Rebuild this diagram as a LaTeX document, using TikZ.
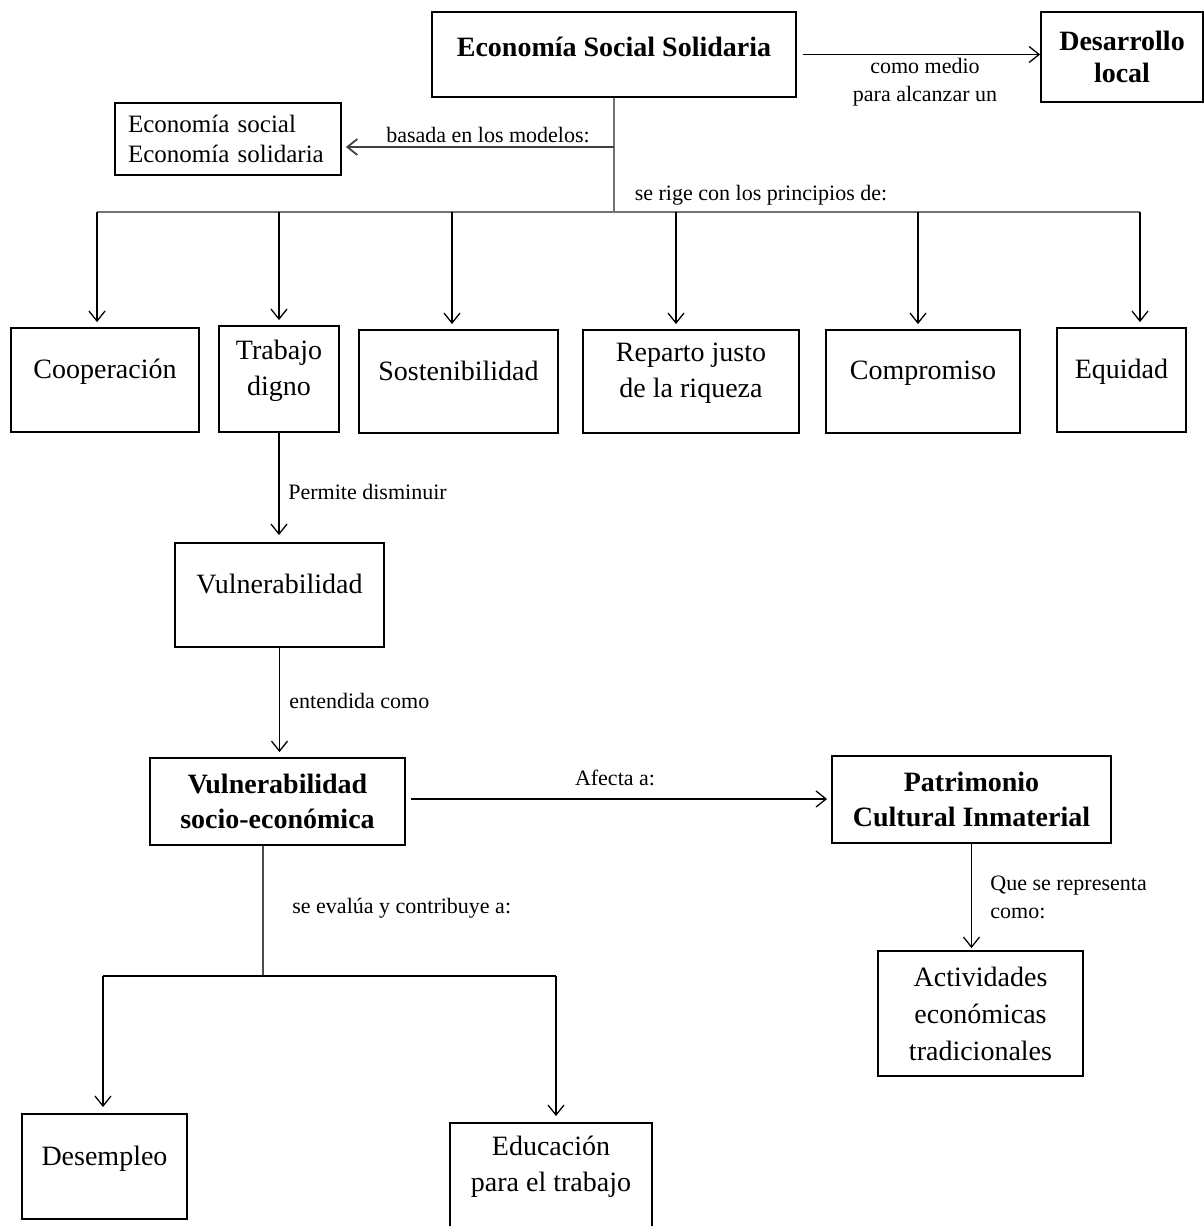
\documentclass[tikz,border=0pt]{standalone}
\usepackage{fontspec}
\setmainfont{Liberation Serif}
\usetikzlibrary{arrows.meta}

\begin{document}
\begin{tikzpicture}[x=0.5pt, y=-0.5pt,
    box/.style={draw=black, line width=0.9pt, align=center, inner sep=0pt, font=\fontsize{14}{18}\selectfont},
    alto/.style={text depth=11pt},
    negrita/.style={font=\fontsize{14}{17.5}\selectfont\bfseries},
    etiqueta/.style={inner sep=0pt, font=\fontsize{11}{14}\selectfont},
    flecha/.style={-{Straight Barb[length=5pt,width=8pt]}, line width=0.65pt},
    tronco/.style={draw=black!55, line width=1.3pt},
]
\useasboundingbox (0,0) rectangle (1204,1226);

% cabecera
\node[box, text depth=8pt, minimum width=182pt, minimum height=42.5pt] (ess) at (614,54.5) {\textbf{Economía Social Solidaria}};
\node[box, minimum width=81pt, minimum height=45pt, font=\fontsize{14}{16}\selectfont\bfseries] (desarrollo) at (1122,57) {Desarrollo\\local};
\node[box, minimum width=113pt, minimum height=36pt, text width=100pt, align=left, font=\fontsize{12.5}{15}\selectfont] (modelos) at (228,139) {Economía social\\Economía solidaria};

\node[etiqueta, align=center] (lmedio) at (925,82) {como medio\\para alcanzar un};
\node[etiqueta] (lbasada) at (488,135) {basada en los modelos:};
\node[etiqueta] (lrige) at (761,195) {se rige con los principios de:};

% principios
\node[box, alto, minimum width=94pt, minimum height=52pt] (coop) at (105,380) {Cooperación};
\node[box, alto, minimum width=60pt, minimum height=53pt] (trab) at (279,379) {Trabajo\\digno};
\node[box, alto, minimum width=99.5pt, minimum height=51.5pt] (sost) at (458.5,381.5) {Sostenibilidad};
\node[box, alto, minimum width=108pt, minimum height=51.5pt] (rep) at (691,381.5) {Reparto justo\\de la riqueza};
\node[box, alto, minimum width=97pt, minimum height=51.5pt] (comp) at (923,381.5) {Compromiso};
\node[box, alto, minimum width=64.5pt, minimum height=52pt] (equi) at (1121.5,380) {Equidad};

\coordinate (cruce) at (614,147);
\coordinate (rama) at (614,212);
\coordinate (c1) at (97,212);
\coordinate (c2) at (279,212);
\coordinate (c3) at (452,212);
\coordinate (c4) at (676,212);
\coordinate (c5) at (918,212);
\coordinate (c6) at (1140,212);

\draw[flecha, shorten <=3pt] (ess.east) -- (ess.east -| desarrollo.west);
\draw[tronco] (ess.south) -- (rama);
\draw[flecha, draw=black!75, line width=0.9pt, shorten >=2pt] (cruce) -- (cruce -| modelos.east);
\draw[tronco] (c1) -- (c6);
\foreach \c/\n in {c1/coop, c2/trab, c3/sost, c4/rep, c5/comp, c6/equi}
  \draw[flecha, shorten >=2.5pt] (\c) -- (\c |- \n.north);

% vulnerabilidad
\node[box, alto, minimum width=104.5pt, minimum height=52pt] (vul) at (279.5,595) {Vulnerabilidad};
\node[box, negrita, minimum width=127.5pt, minimum height=43.5pt] (vse) at (277.5,801.5) {Vulnerabilidad\\socio-económica};
\node[box, negrita, minimum width=139.5pt, minimum height=43.5pt] (pci) at (971.5,799.5) {Patrimonio\\Cultural Inmaterial};
\node[box, minimum width=102.5pt, minimum height=62.5pt, font=\fontsize{14}{18.5}\selectfont] (act) at (980.5,1013.5) {Actividades\\económicas\\tradicionales};

\draw[flecha, shorten >=3.5pt] (trab.south) -- (trab.south |- vul.north);
\node[etiqueta, anchor=west] (lpermite) at (288,492) {Permite disminuir};
\draw[flecha, shorten >=2.5pt] (vul.south) -- (vul.south |- vse.north);
\node[etiqueta, anchor=west] (lentendida) at (289,701) {entendida como};

\coordinate (afecta) at (vse.east |- 0,799);
\draw[flecha, shorten <=2.5pt, shorten >=2pt] (afecta) -- (afecta -| pci.west);
\node[etiqueta] (lafecta) at (615,778) {Afecta a:};

\draw[flecha, shorten >=1pt] (pci.south) -- (pci.south |- act.north);
\node[etiqueta, anchor=west, align=left] (lrepresenta) at (990,897) {Que se representa\\como:};

% contribuye
\node[box, alto, minimum width=82.5pt, minimum height=52.5pt] (des) at (104.5,1166.5) {Desempleo};
\node[box, text depth=13pt, minimum width=101pt, minimum height=53.5pt] (edu) at (551,1176.5) {Educación\\para el trabajo};

\coordinate (evalua) at (263,976);
\coordinate (e1) at (103,976);
\coordinate (e2) at (556,976);
\draw[draw=black!70, line width=0.7pt] (vse.south -| evalua) -- (evalua);
\draw[line width=0.75pt] (e1) -- (e2);
\draw[flecha, shorten >=3pt] (e1) -- (e1 |- des.north);
\draw[flecha, shorten >=3pt] (e2) -- (e2 |- edu.north);
\node[etiqueta, anchor=west] (levalua) at (292,908) {se evalúa y contribuye a:};
\end{tikzpicture}
\end{document}
